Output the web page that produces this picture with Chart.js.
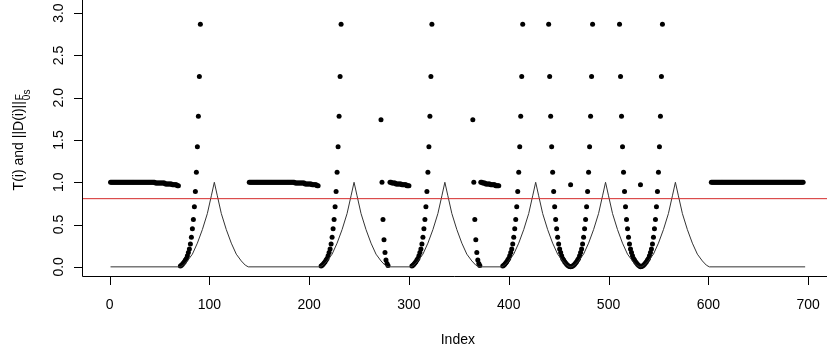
<!DOCTYPE html>
<html>
<head>
<meta charset="utf-8">
<script src="https://cdn.jsdelivr.net/npm/chart.js@4.4.0/dist/chart.umd.min.js"></script>
<style>
  html, body { margin: 0; padding: 0; background: #fff; }
  canvas { display: block; }
</style>
</head>
<body>
<canvas id="chart" width="831" height="356"></canvas>
<script>
// axis ticks
const xTicks = [0, 100, 200, 300, 400, 500, 600, 700];
const yTicks = [0, 0.5, 1, 1.5, 2, 2.5, 3];
const yTickLabels = ['0.0', '0.5', '1.0', '1.5', '2.0', '2.5', '3.0'];

// T(i) line, vertices
const tIndex = [1,
  71, 74, 78, 83, 88, 93, 98, 102, 105, 108, 112, 117, 122, 127, 132, 136, 139,
  211, 214, 218, 223, 228, 233, 238, 242, 245, 248, 252, 257, 262, 267, 272, 276, 279,
  302, 305, 309, 314, 319, 324, 329, 333, 336, 339, 343, 348, 353, 358, 363, 367, 370,
  393, 396, 400, 405, 410, 415, 420, 424, 427, 430, 434, 439, 444, 449, 454, 458, 461,
  463, 466, 470, 475, 480, 485, 490, 494, 497, 500, 504, 509, 514, 519, 524, 528, 531,
  533, 536, 540, 545, 550, 555, 560, 564, 567, 570, 574, 579, 584, 589, 594, 598, 601,
  697];
const tValue = [0,
  0, 0.02, 0.07, 0.15, 0.28, 0.44, 0.63, 0.84, 1, 0.84, 0.63, 0.44, 0.28, 0.15, 0.07, 0.02, 0,
  0, 0.02, 0.07, 0.15, 0.28, 0.44, 0.63, 0.84, 1, 0.84, 0.63, 0.44, 0.28, 0.15, 0.07, 0.02, 0,
  0, 0.02, 0.07, 0.15, 0.28, 0.44, 0.63, 0.84, 1, 0.84, 0.63, 0.44, 0.28, 0.15, 0.07, 0.02, 0,
  0, 0.02, 0.07, 0.15, 0.28, 0.44, 0.63, 0.84, 1, 0.84, 0.63, 0.44, 0.28, 0.15, 0.07, 0.02, 0,
  0, 0.02, 0.07, 0.15, 0.28, 0.44, 0.63, 0.84, 1, 0.84, 0.63, 0.44, 0.28, 0.15, 0.07, 0.02, 0,
  0, 0.02, 0.07, 0.15, 0.28, 0.44, 0.63, 0.84, 1, 0.84, 0.63, 0.44, 0.28, 0.15, 0.07, 0.02, 0,
  0];

// ||D(i)|| points: each run is [first index, values...]
const band1 = [1,
  1, 1, 1, 1, 1, 1, 1, 1, 1, 1, 1, 1, 1, 1, 1, 1, 1, 1, 1, 1,
  1, 1, 1, 1, 1, 1, 1, 1, 1, 1, 1, 1, 1, 1, 1, 1, 1, 1, 1, 1,
  1, 1, 1, 1, 1, 0.99, 0.99, 0.99, 0.99, 0.99, 0.99, 0.99, 0.99, 0.99, 0.99,
  0.98, 0.98, 0.98, 0.98, 0.98, 0.98, 0.98, 0.97, 0.97, 0.97, 0.97, 0.97, 0.96, 0.96];
const band2 = [140,
  1, 1, 1, 1, 1, 1, 1, 1, 1, 1, 1, 1, 1, 1, 1, 1, 1, 1, 1, 1,
  1, 1, 1, 1, 1, 1, 1, 1, 1, 1, 1, 1, 1, 1, 1, 1, 1, 1, 1, 1,
  1, 1, 1, 1, 1, 1, 0.99, 0.99, 0.99, 0.99, 0.99, 0.99, 0.99, 0.99, 0.99, 0.99,
  0.98, 0.98, 0.98, 0.98, 0.98, 0.98, 0.98, 0.97, 0.97, 0.97, 0.97, 0.97, 0.96, 0.96];
const band3 = [281,
  1, 1, 0.99, 0.99, 0.99, 0.99, 0.98, 0.98, 0.98, 0.98,
  0.98, 0.98, 0.97, 0.97, 0.97, 0.97, 0.97, 0.96, 0.96, 0.96];
const band4 = [372,
  1, 1, 0.99, 0.99, 0.99, 0.98, 0.98, 0.98, 0.98, 0.98,
  0.97, 0.97, 0.97, 0.97, 0.97, 0.96, 0.96, 0.96, 0.96];
const band5 = [603,
  1, 1, 1, 1, 1, 1, 1, 1, 1, 1, 1, 1, 1, 1, 1, 1, 1, 1, 1, 1,
  1, 1, 1, 1, 1, 1, 1, 1, 1, 1, 1, 1, 1, 1, 1, 1, 1, 1, 1, 1,
  1, 1, 1, 1, 1, 1, 1, 1, 1, 1, 1, 1, 1, 1, 1, 1, 1, 1, 1, 1,
  1, 1, 1, 1, 1, 1, 1, 1, 1, 1, 1, 1, 1, 1, 1, 1, 1, 1, 1, 1,
  1, 1, 1, 1, 1, 1, 1, 1, 1, 1, 1, 1, 1];

// rising columns in front of the peaks
const rise1 = [71, 0.01, 0.02, 0.03, 0.045, 0.06, 0.08, 0.1, 0.13, 0.17, 0.21, 0.27, 0.35, 0.45, 0.56, 0.71, 0.89, 1.12, 1.42, 1.78, 2.25, 2.87];
const rise2 = [212, 0.01, 0.02, 0.03, 0.045, 0.06, 0.08, 0.1, 0.13, 0.17, 0.21, 0.27, 0.35, 0.45, 0.56, 0.71, 0.89, 1.12, 1.42, 1.78, 2.25, 2.87];
const rise3 = [303, 0.01, 0.02, 0.03, 0.045, 0.06, 0.08, 0.1, 0.13, 0.17, 0.21, 0.27, 0.35, 0.45, 0.56, 0.71, 0.89, 1.12, 1.42, 1.78, 2.25, 2.87];
const rise4 = [394, 0.01, 0.02, 0.03, 0.045, 0.06, 0.08, 0.1, 0.13, 0.17, 0.21, 0.27, 0.35, 0.45, 0.56, 0.71, 0.89, 1.12, 1.42, 1.78, 2.25, 2.87];

// falling tails after peaks 2 and 3
const tail2 = [272, 1.74, 1, 0.56, 0.32, 0.17, 0.08, 0.04, 0.015];
const tail3 = [364, 1.74, 1, 0.56, 0.32, 0.17, 0.08, 0.04, 0.015];

// valleys between close peaks
const valley1 = [440, 2.87, 2.25, 1.78, 1.42, 1.12, 0.89, 0.71, 0.56, 0.45, 0.35, 0.27, 0.21, 0.17, 0.13, 0.1, 0.08, 0.06, 0.045, 0.03, 0.02, 0.01, 0.005, 0,
  0.005, 0.01, 0.02, 0.03, 0.045, 0.06, 0.08, 0.1, 0.13, 0.17, 0.21, 0.27, 0.35, 0.45, 0.56, 0.71, 0.89, 1.12, 1.42, 1.78, 2.25, 2.87];
const valley2 = [511, 2.87, 2.25, 1.78, 1.42, 1.12, 0.89, 0.71, 0.56, 0.45, 0.35, 0.27, 0.21, 0.17, 0.13, 0.1, 0.08, 0.06, 0.045, 0.03, 0.02, 0.01, 0,
  0.005, 0.01, 0.02, 0.03, 0.045, 0.06, 0.08, 0.1, 0.13, 0.17, 0.21, 0.27, 0.35, 0.45, 0.56, 0.71, 0.89, 1.12, 1.42, 1.78, 2.25, 2.87];

// single points at the valley bottoms
const loneIndex = [462, 532];
const loneValue = [0.97, 0.97];

const threshold = 0.806;

const xMin = -26.6, xMax = 718.9;
const yMin = -0.12, yMax = 3.108;

const dots = [];
[band1, band2, band3, band4, band5, rise1, rise2, rise3, rise4, tail2, tail3, valley1, valley2].forEach(run => {
  run.slice(1).forEach((v, k) => dots.push({ x: run[0] + k, y: v }));
});
loneIndex.forEach((x, k) => dots.push({ x: x, y: loneValue[k] }));

const tLine = tIndex.map((x, k) => ({ x: x, y: tValue[k] }));

const FONT = '"Liberation Sans", Arial, sans-serif';

const rAxes = {
  id: 'rAxes',
  afterDraw(chart) {
    const { ctx, chartArea: a } = chart;
    const xs = chart.scales.x, ys = chart.scales.y;
    ctx.save();
    ctx.strokeStyle = '#000';
    ctx.lineWidth = 1;
    ctx.beginPath();
    ctx.moveTo(a.left - 0.5, 0);
    ctx.lineTo(a.left - 0.5, a.bottom - 0.5);
    ctx.lineTo(a.right, a.bottom - 0.5);
    // x ticks
    xTicks.forEach(t => {
      const px = Math.round(xs.getPixelForValue(t)) + 0.5;
      ctx.moveTo(px, a.bottom - 0.5);
      ctx.lineTo(px, a.bottom + 8);
    });
    // y ticks
    yTicks.forEach(t => {
      const py = Math.round(ys.getPixelForValue(t)) + 0.5;
      ctx.moveTo(a.left - 0.5, py);
      ctx.lineTo(a.left - 9, py);
    });
    ctx.stroke();

    ctx.fillStyle = '#000';
    ctx.font = '14px ' + FONT;
    ctx.textAlign = 'center';
    ctx.textBaseline = 'alphabetic';
    xTicks.forEach(t => ctx.fillText(String(t), xs.getPixelForValue(t), 309));
    yTicks.forEach((t, k) => {
      ctx.save();
      ctx.translate(62.5, ys.getPixelForValue(t));
      ctx.rotate(-Math.PI / 2);
      ctx.fillText(yTickLabels[k], 0, 0);
      ctx.restore();
    });

    // axis titles
    ctx.fillText('Index', xs.getPixelForValue(349), 344);

    ctx.save();
    ctx.translate(22.5, ys.getPixelForValue(1.5));
    ctx.rotate(-Math.PI / 2);
    const main = 'T(i) and ||D(i)||';
    ctx.font = '14px ' + FONT;
    const wMain = ctx.measureText(main).width;
    ctx.font = '10px ' + FONT;
    const wSub = ctx.measureText('0s').width;
    const start = -(wMain + wSub + 1) / 2;
    ctx.textAlign = 'left';
    ctx.font = '14px ' + FONT;
    ctx.fillText(main, start, 0);
    ctx.font = '10px ' + FONT;
    ctx.fillText('F', start + wMain + 1, 0);
    ctx.fillText('0s', start + wMain + 1, 7);
    ctx.restore();

    ctx.restore();
  }
};

new Chart(document.getElementById('chart').getContext('2d'), {
  type: 'scatter',
  data: {
    datasets: [
      {
        label: 'threshold',
        data: [{ x: xMin, y: threshold }, { x: xMax, y: threshold }],
        showLine: true,
        borderColor: '#d42a2a',
        borderWidth: 1,
        pointRadius: 0,
        order: 0
      },
      {
        label: 'T(i)',
        data: tLine,
        showLine: true,
        borderColor: '#333',
        borderWidth: 1,
        pointRadius: 0,
        tension: 0,
        order: 1
      },
      {
        label: '||D(i)||',
        data: dots,
        showLine: false,
        pointRadius: 2.5,
        pointBackgroundColor: '#000',
        pointBorderWidth: 0,
        order: 2
      }
    ]
  },
  options: {
    responsive: false,
    animation: false,
    events: [],
    layout: { padding: { left: 83, right: 0, top: 0, bottom: 79 } },
    plugins: {
      legend: { display: false },
      tooltip: { enabled: false }
    },
    scales: {
      x: { type: 'linear', min: xMin, max: xMax, display: false },
      y: { type: 'linear', min: yMin, max: yMax, display: false }
    }
  },
  plugins: [rAxes]
});
</script>
</body>
</html>
